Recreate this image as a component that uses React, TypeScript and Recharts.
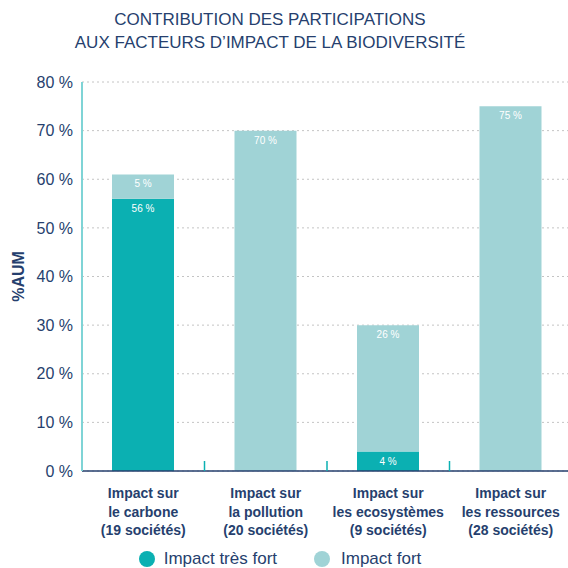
import React from 'react';
import { BarChart, Bar, XAxis, YAxis, CartesianGrid, Legend, LabelList } from 'recharts';

const categories = [
  'Impact sur\nle carbone\n(19 sociétés)',
  'Impact sur\nla pollution\n(20 sociétés)',
  'Impact sur\nles ecosystèmes\n(9 sociétés)',
  'Impact sur\nles ressources\n(28 sociétés)',
];
const impactTresFort = [56, 0, 4, 0];
const impactFort = [5, 70, 26, 75];
const yTicks = [0, 10, 20, 30, 40, 50, 60, 70, 80];

const data = categories.map((c, i) => ({ name: c, tresFort: impactTresFort[i], fort: impactFort[i] }));

const NAVY = '#263f6e';
const DARK = '#0bb0b2';
const LIGHT = '#a0d3d6';
const FONT = '"Liberation Sans", Arial, Helvetica, sans-serif';

const W = 568;
const H = 568;
const LEFT = 82;
const RIGHT = -4;
const HALF_BAND = (W - LEFT - RIGHT) / categories.length / 2;

const XTick = (props: any) => {
  const { x, y, payload, index } = props;
  const lines = String(payload.value).split('\n');
  return (
    <g>
      {index < categories.length - 1 && (
        <line x1={x + HALF_BAND} x2={x + HALF_BAND} y1={y - 10} y2={y} stroke={DARK} strokeWidth={1.5} />
      )}
      <text x={x} y={y} textAnchor="middle" fill={NAVY} fontSize={14} fontWeight="bold" fontFamily={FONT}>
        {lines.map((l, i) => (
          <tspan key={i} x={x} dy={i === 0 ? 27 : 18.5}>{l}</tspan>
        ))}
      </text>
    </g>
  );
};

const BarLabel = (props: any) => {
  const { x, y, width, value } = props;
  if (!value) return null;
  return (
    <text x={x + width / 2} y={y + 13} textAnchor="middle" fill="#ffffff" fontSize={10} fontFamily={FONT}>
      {`${value} %`}
    </text>
  );
};

const LegendContent = () => (
  <div style={{ display: 'flex', justifyContent: 'center', alignItems: 'center', paddingRight: 12, paddingTop: 5, fontFamily: FONT, fontSize: 17, lineHeight: '19px', color: NAVY }}>
    <span style={{ display: 'inline-block', width: 16, height: 16, borderRadius: 8, background: DARK, marginRight: 9 }} />
    <span style={{ marginRight: 37 }}>Impact très fort</span>
    <span style={{ display: 'inline-block', width: 16, height: 16, borderRadius: 8, background: LIGHT, marginRight: 11 }} />
    <span>Impact fort</span>
  </div>
);

const YLabel = (props: any) => {
  const { viewBox } = props;
  const cy = viewBox.y + viewBox.height / 2;
  return (
    <text x={18} y={cy} transform={`rotate(-90, 18, ${cy})`} textAnchor="middle" dominantBaseline="central" fill={NAVY} fontSize={16} fontWeight="bold" fontFamily={FONT}>
      %AUM
    </text>
  );
};

export default function App() {
  return (
    <div style={{ position: 'absolute', left: 0, top: 0, width: W, height: H, background: '#fff' }}>
      <div style={{ position: 'absolute', left: 0, top: 8, width: 540, textAlign: 'center', fontFamily: FONT, fontSize: 17, lineHeight: '23px', color: NAVY, zIndex: 2 }}>
        CONTRIBUTION DES PARTICIPATIONS<br />AUX FACTEURS D’IMPACT DE LA BIODIVERSITÉ
      </div>
      <BarChart width={W} height={H} data={data} margin={{ top: 82, right: RIGHT, left: 0, bottom: 0 }} barSize={62}>
        <CartesianGrid vertical={false} stroke="#c4c4c4" strokeDasharray="2 3" />
        <XAxis
          dataKey="name"
          height={73}
          tickSize={0}
          tickMargin={0}
          tickLine={false}
          interval={0}
          axisLine={{ stroke: NAVY, strokeWidth: 1.5 }}
          tick={<XTick />}
        />
        <YAxis
          width={LEFT}
          domain={[0, 80]}
          ticks={yTicks}
          tickSize={0}
          tickMargin={9}
          tickLine={false}
          axisLine={{ stroke: '#7fd4d6', strokeWidth: 2 }}
          tickFormatter={(v: number) => `${v} %`}
          tick={{ fill: NAVY, fontSize: 16, fontFamily: FONT }}
          label={<YLabel />}
        />
        <Legend verticalAlign="bottom" height={24} wrapperStyle={{ height: 24 }} content={<LegendContent />} />
        <Bar dataKey="tresFort" name="Impact très fort" stackId="a" fill={DARK} isAnimationActive={false}>
          <LabelList dataKey="tresFort" content={<BarLabel />} />
        </Bar>
        <Bar dataKey="fort" name="Impact fort" stackId="a" fill={LIGHT} isAnimationActive={false}>
          <LabelList dataKey="fort" content={<BarLabel />} />
        </Bar>
      </BarChart>
    </div>
  );
}
